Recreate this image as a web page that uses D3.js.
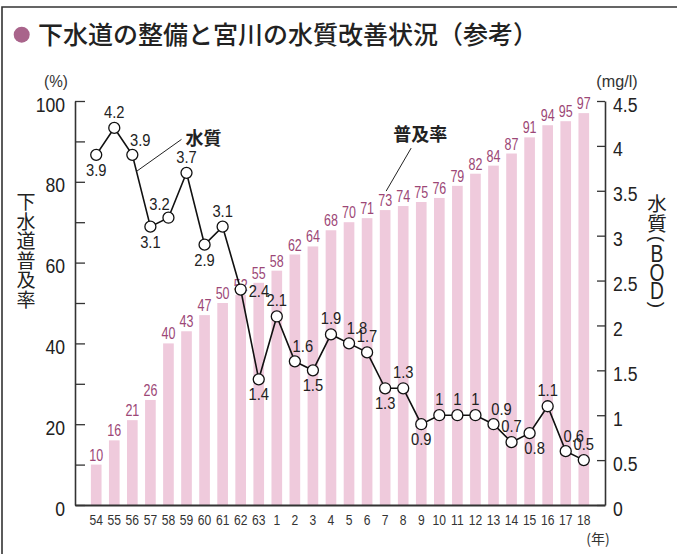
<!DOCTYPE html>
<html>
<head>
<meta charset="utf-8">
<script src="https://cdn.jsdelivr.net/npm/d3@7"></script>
<style>
  body { margin: 0; background: #fff; }
  .num { font-family: 'Liberation Sans', Arial, sans-serif; }
  .jp { font-family: 'Noto Sans CJK JP', sans-serif; }
</style>
</head>
<body>
<div id="chart"></div>
<script>
// data
const years = ['54','55','56','57','58','59','60','61','62','63','1','2','3','4','5','6','7','8','9','10','11','12','13','14','15','16','17','18'];
const coverage = [10,16,21,26,40,43,47,50,52,55,58,62,64,68,70,71,73,74,75,76,79,82,84,87,91,94,95,97];
const bod = [3.9,4.2,3.9,3.1,3.2,3.7,2.9,3.1,2.4,1.4,2.1,1.6,1.5,1.9,1.8,1.7,1.3,1.3,0.9,1,1,1,0.9,0.7,0.8,1.1,0.6,0.5];
const leftTicks = [0,10,20,30,40,50,60,70,80,90,100];
const rightTicks = [0,0.5,1,1.5,2,2.5,3,3.5,4,4.5];
// where each BOD label sits (a above, b below, ar/al above right/left, r right, br below right)
const bodLabelPos = ['b','a','ar','b','al','a','b','a','r','b','a','ar','b','a','ar','a','b','a','b','a','a','a','ar','a','br','a','ar','a'];

const W = 677, H = 554;
const BAR = '#efcadc', BARTXT = '#9c4776', INK = '#222';

// squeeze text horizontally (the print uses a condensed face)
function condense(sel, k) {
  sel.each(function() {
    const w = this.getComputedTextLength();
    if (w > 0) d3.select(this).attr('textLength', w * k).attr('lengthAdjust', 'spacingAndGlyphs');
  });
}

const svg = d3.select('#chart').append('svg')
  .attr('width', W).attr('height', H);

// outer frame (left + top)
svg.append('path')
  .attr('d', `M2,${H} V7 H${W}`)
  .attr('fill', 'none').attr('stroke', '#333').attr('stroke-width', 1.6);

// title
svg.append('circle').attr('cx', 21.7).attr('cy', 34.7).attr('r', 8).attr('fill', '#a9648b');
svg.append('text').attr('class', 'jp')
  .attr('x', 38).attr('y', 44)
  .attr('font-size', 25).attr('font-weight', 500).attr('fill', INK)
  .text('下水道の整備と宮川の水質改善状況（参考）');

// scales
const x = d3.scaleBand().domain(years).range([75, 605]).paddingInner(0.41).paddingOuter(0.88);
const yL = d3.scaleLinear().domain([0, 100]).range([505, 101]);
const yR = d3.scaleLinear().domain([0, 4.5]).range([505, 101]);

// bars
svg.append('g').selectAll('rect')
  .data(coverage)
  .join('rect')
  .attr('x', (d, i) => x(years[i]))
  .attr('y', d => yL(d))
  .attr('width', x.bandwidth())
  .attr('height', d => yL(0) - yL(d))
  .attr('fill', BAR);

svg.append('g').selectAll('text')
  .data(coverage)
  .join('text')
  .attr('class', 'num')
  .attr('x', (d, i) => x(years[i]) + x.bandwidth() / 2)
  .attr('y', d => yL(d) - 4)
  .attr('text-anchor', 'middle')
  .attr('font-size', 16)
  .attr('fill', BARTXT)
  .text(d => d)
  .call(condense, 0.78);

// axes
const axL = svg.append('g').attr('transform', 'translate(75,0)')
  .call(d3.axisLeft(yL).tickValues(leftTicks).tickSizeInner(-10).tickSizeOuter(0).tickPadding(10)
    .tickFormat(d => d % 20 === 0 ? d : ''));
const axR = svg.append('g').attr('transform', 'translate(605,0)')
  .call(d3.axisRight(yR).tickValues(rightTicks).tickSizeInner(-8).tickSizeOuter(0).tickPadding(8)
    .tickFormat(d => String(+d.toFixed(1))));
const axB = svg.append('g').attr('transform', 'translate(0,505)')
  .call(d3.axisBottom(x).tickSize(0).tickPadding(9));

[axL, axR].forEach(a => {
  a.selectAll('text').attr('class', 'num').attr('font-size', 20).attr('fill', INK).attr('dy', '0.5em')
    .call(condense, 0.88);
});
axB.selectAll('text').attr('class', 'num').attr('font-size', 15.5).attr('fill', '#333').call(condense, 0.78);
[axL, axR, axB].forEach(a => {
  a.select('.domain').attr('stroke', '#333').attr('stroke-width', 1.6);
  a.selectAll('.tick line').attr('stroke', '#333').attr('stroke-width', 1.3);
});
axB.select('.domain').attr('stroke-width', 2.2);

// units
svg.append('text').attr('class', 'num').attr('x', 56).attr('y', 87)
  .attr('text-anchor', 'middle').attr('font-size', 17).attr('fill', '#333').text('(%)').call(condense, 0.9);
svg.append('text').attr('class', 'num').attr('x', 617).attr('y', 87)
  .attr('text-anchor', 'middle').attr('font-size', 17).attr('fill', '#333').text('(mg/l)').call(condense, 0.95);
svg.append('text').attr('class', 'jp').attr('x', 598).attr('y', 544)
  .attr('text-anchor', 'middle').attr('font-size', 14).attr('fill', '#333').text('(年)');

// vertical axis titles
const leftTitle = '下水道普及率'.split('');
svg.append('g').selectAll('text')
  .data(leftTitle)
  .join('text')
  .attr('class', 'jp')
  .attr('x', 26)
  .attr('y', (d, i) => 209 + i * 19.6)
  .attr('text-anchor', 'middle')
  .attr('font-size', 19)
  .attr('fill', INK)
  .text(d => d);

const rt = svg.append('g').attr('fill', INK);
[['水', 211], ['質', 231]].forEach(([c, y]) => {
  rt.append('text').attr('class', 'jp').attr('x', 657).attr('y', y)
    .attr('text-anchor', 'middle').attr('font-size', 19.5).text(c);
});
[['B', 262], ['O', 281], ['D', 299]].forEach(([c, y]) => {
  rt.append('text').attr('class', 'num').attr('x', 657).attr('y', y)
    .attr('text-anchor', 'middle').attr('font-size', 24).text(c).call(condense, 0.8);
});
[['(', 239], [')', 305]].forEach(([c, y]) => {
  rt.append('text').attr('class', 'num')
    .attr('transform', `translate(657,${y}) rotate(90)`)
    .attr('text-anchor', 'middle').attr('dominant-baseline', 'central')
    .attr('font-size', 19).text(c);
});

// BOD line
const cx = i => x(years[i]) + x.bandwidth() / 2;
const line = d3.line().x((d, i) => cx(i)).y(d => yR(d));
svg.append('path')
  .datum(bod)
  .attr('d', line)
  .attr('fill', 'none')
  .attr('stroke', '#111')
  .attr('stroke-width', 1.6);

svg.append('g').selectAll('circle')
  .data(bod)
  .join('circle')
  .attr('cx', (d, i) => cx(i))
  .attr('cy', d => yR(d))
  .attr('r', 5.5)
  .attr('fill', '#fff')
  .attr('stroke', '#111')
  .attr('stroke-width', 1.3);

const offs = { a: [0, -10, 'middle'], b: [0, 21, 'middle'], ar: [8, -9, 'middle'], al: [-9, -8, 'middle'],
  r: [8, 7, 'start'], br: [5, 21, 'middle'] };
svg.append('g').selectAll('text')
  .data(bod)
  .join('text')
  .attr('class', 'num')
  .attr('x', (d, i) => cx(i) + offs[bodLabelPos[i]][0])
  .attr('y', (d, i) => yR(d) + offs[bodLabelPos[i]][1])
  .attr('text-anchor', (d, i) => offs[bodLabelPos[i]][2])
  .attr('font-size', 16)
  .attr('fill', INK)
  .text(d => d)
  .call(condense, 0.92);

// series callouts
const p56 = [cx(2), yR(bod[2])], p57 = [cx(3), yR(bod[3])];
const q = [p56[0] + (p57[0] - p56[0]) * 0.23, p56[1] + (p57[1] - p56[1]) * 0.23];
svg.append('line')
  .attr('x1', q[0]).attr('y1', q[1]).attr('x2', q[0] + 45).attr('y2', q[1] - 32)
  .attr('stroke', '#222').attr('stroke-width', 1);
svg.append('text').attr('class', 'jp')
  .attr('x', q[0] + 67).attr('y', q[1] - 26)
  .attr('text-anchor', 'middle').attr('font-size', 18).attr('font-weight', 'bold').attr('fill', INK)
  .text('水質');

const i7 = years.indexOf('7');
const b7 = [cx(i7), yL(coverage[i7]) - 19];
svg.append('line')
  .attr('x1', b7[0] + 1).attr('y1', b7[1]).attr('x2', b7[0] + 26).attr('y2', b7[1] - 43)
  .attr('stroke', '#222').attr('stroke-width', 1);
svg.append('text').attr('class', 'jp')
  .attr('x', b7[0] + 35).attr('y', b7[1] - 50)
  .attr('text-anchor', 'middle').attr('font-size', 18).attr('font-weight', 'bold').attr('fill', INK)
  .text('普及率');
</script>
</body>
</html>
